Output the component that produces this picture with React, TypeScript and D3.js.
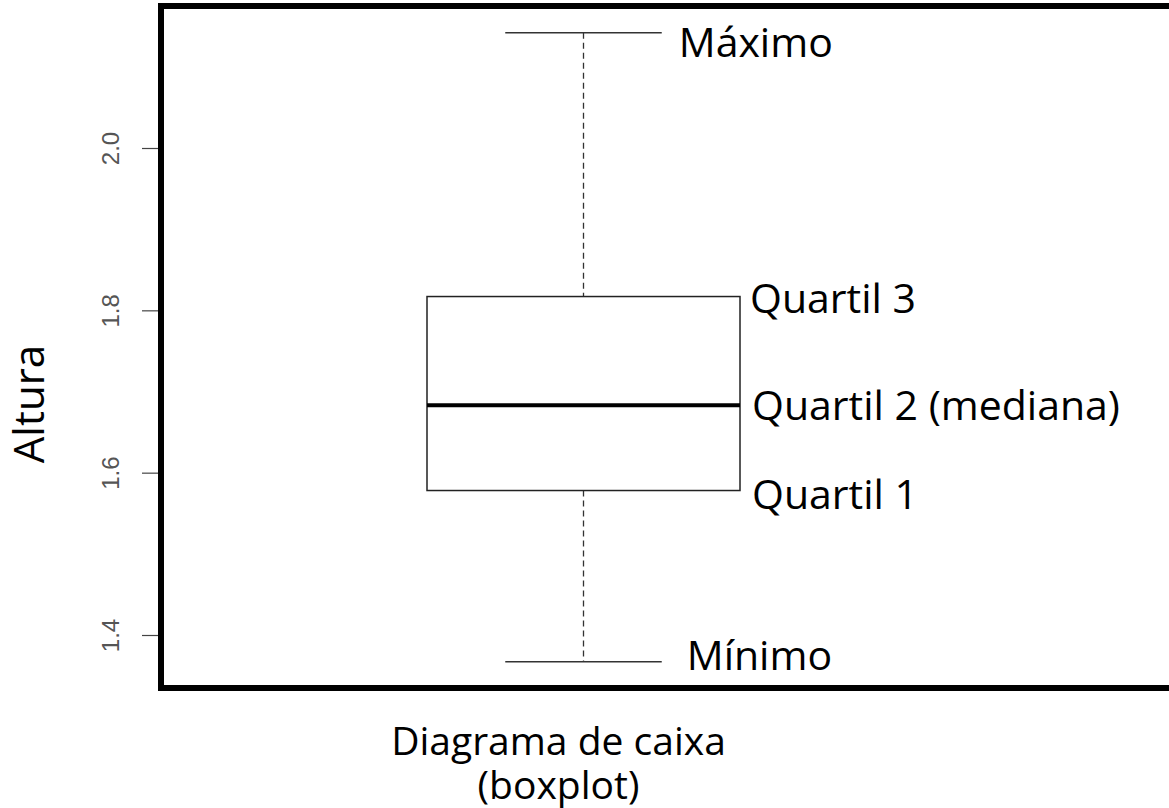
import React, { useEffect, useRef } from 'react';
import * as d3 from 'd3';

const categories = ['Altura'];
const statNames = ['Mínimo', 'Quartil 1', 'Quartil 2 (mediana)', 'Quartil 3', 'Máximo'];
const statValues = [1.367, 1.578, 1.683, 1.817, 2.142];
const yTicks = [1.4, 1.6, 1.8, 2.0];

const App = () => {
  const ref = useRef<SVGSVGElement>(null);

  useEffect(() => {
    const width = 1169;
    const height = 808;
    const frame = { left: 161, top: 6, right: 1180, bottom: 688 };
    const font = '"Open Sans", sans-serif';

    const svg = d3.select(ref.current)
      .attr('width', width)
      .attr('height', height);

    svg.selectAll('*').remove();

    svg.append('rect')
      .attr('width', width)
      .attr('height', height)
      .attr('fill', 'white');

    const y = d3.scaleLinear()
      .domain([1.4, 2.0])
      .range([635, 148]);

    const x = d3.scaleBand()
      .domain(categories)
      .range([427, 740])
      .padding(0);

    const [mn, q1, med, q3, mx] = statValues;
    const bx = x(categories[0]) ?? 0;
    const bw = x.bandwidth();
    const cx = bx + bw / 2;
    const capL = cx - bw / 4;
    const capR = cx + bw / 4;

    // eje y
    const axis = svg.append('g')
      .attr('transform', `translate(${frame.left - 2},0)`)
      .call(d3.axisLeft(y).tickValues(yTicks).tickFormat(d3.format('.1f')).tickSize(17));
    axis.select('.domain').remove();
    axis.selectAll('.tick line').attr('stroke', '#444').attr('stroke-width', 1.2);
    axis.selectAll('.tick text')
      .attr('transform', 'rotate(-90)')
      .attr('x', 0)
      .attr('y', -48)
      .attr('dy', '0.35em')
      .attr('text-anchor', 'middle')
      .attr('fill', '#555')
      .attr('font-family', '"Liberation Sans", Arial, sans-serif')
      .attr('font-size', 24);

    // bigotes
    [[mx, q3], [q1, mn]].forEach(([a, b]) => {
      svg.append('line')
        .attr('x1', cx).attr('x2', cx)
        .attr('y1', y(a)).attr('y2', y(b))
        .attr('stroke', '#333').attr('stroke-width', 1.3)
        .attr('stroke-dasharray', '6,4');
    });

    [mn, mx].forEach(v => {
      svg.append('line')
        .attr('x1', capL).attr('x2', capR)
        .attr('y1', y(v)).attr('y2', y(v))
        .attr('stroke', '#333').attr('stroke-width', 1.5);
    });

    // caja
    svg.append('rect')
      .attr('x', bx)
      .attr('y', y(q3))
      .attr('width', bw)
      .attr('height', y(q1) - y(q3))
      .attr('fill', 'white')
      .attr('stroke', '#222')
      .attr('stroke-width', 1.5);

    svg.append('line')
      .attr('x1', bx).attr('x2', bx + bw)
      .attr('y1', y(med)).attr('y2', y(med))
      .attr('stroke', '#000').attr('stroke-width', 4);

    // marco
    svg.append('rect')
      .attr('x', frame.left)
      .attr('y', frame.top)
      .attr('width', frame.right - frame.left)
      .attr('height', frame.bottom - frame.top)
      .attr('fill', 'none')
      .attr('stroke', '#000')
      .attr('stroke-width', 6);

    // etiquetas
    const labelX = [capR + 25, bx + bw + 12, bx + bw + 12, bx + bw + 10, capR + 17];
    const baseline = [8, 18, 15, 16, 24];
    statNames.forEach((name, i) => {
      svg.append('text')
        .attr('x', labelX[i])
        .attr('y', y(statValues[i]) + baseline[i])
        .attr('font-family', font)
        .attr('font-size', 41)
        .attr('fill', '#000')
        .text(name);
    });

    svg.append('text')
      .attr('transform', 'translate(44,404) rotate(-90)')
      .attr('text-anchor', 'middle')
      .attr('font-family', font)
      .attr('font-size', 42)
      .text('Altura');

    svg.append('text')
      .attr('x', cx - 25)
      .attr('y', 755)
      .attr('text-anchor', 'middle')
      .attr('font-family', font)
      .attr('font-size', 39)
      .text('Diagrama de caixa');

    svg.append('text')
      .attr('x', cx - 25)
      .attr('y', 799)
      .attr('text-anchor', 'middle')
      .attr('font-family', font)
      .attr('font-size', 39)
      .text('(boxplot)');
  }, []);

  return (
    <svg ref={ref} style={{ position: 'absolute', left: 0, top: 0 }}></svg>
  );
};

export default App;
